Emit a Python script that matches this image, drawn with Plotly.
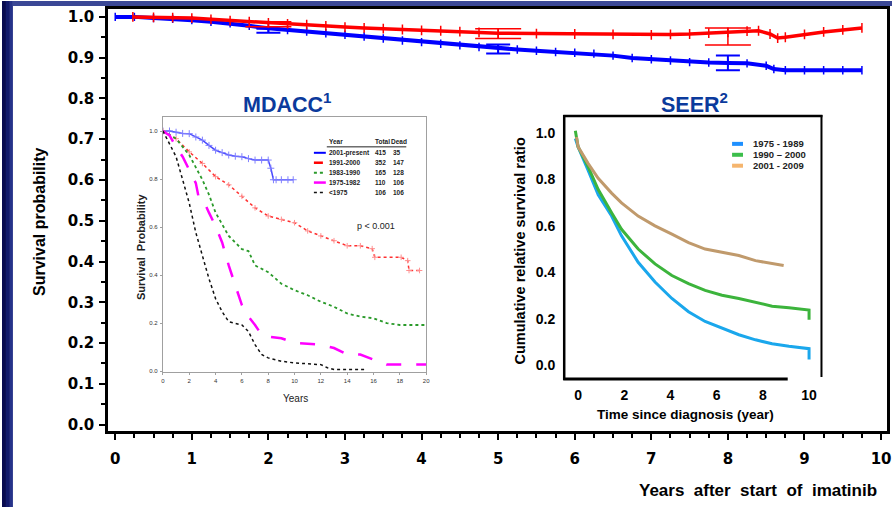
import plotly.graph_objects as go

W, H = 896, 510
def X(p): return p / W
def Y(p): return 1 - p / H

# ---------------- Main chart data (years after start of imatinib) ----------------
main_years_blue = [0, 0.25, 0.5, 0.75, 1.0, 1.25, 1.5, 1.75, 2.0, 2.25, 2.5, 2.75, 3.0, 3.25, 3.5, 3.75,
                   4.0, 4.25, 4.5, 4.75, 5.0, 5.25, 5.5, 5.75, 6.0, 6.25, 6.5, 6.75, 7.0, 7.25, 7.5, 7.75,
                   8.0, 8.25, 8.5, 8.6, 8.75, 9.0, 9.25, 9.5, 9.75]
main_surv_blue = [1.0, 1.0, 0.997, 0.995, 0.992, 0.988, 0.984, 0.978, 0.972, 0.968, 0.964, 0.960, 0.956,
                  0.952, 0.947, 0.942, 0.938, 0.934, 0.930, 0.926, 0.922, 0.920, 0.917, 0.914, 0.912,
                  0.910, 0.905, 0.899, 0.896, 0.893, 0.889, 0.888, 0.887, 0.886, 0.880, 0.872, 0.869,
                  0.869, 0.869, 0.869, 0.869]
main_years_red = [0.23, 0.5, 0.75, 1.0, 1.25, 1.5, 1.75, 2.0, 2.25, 2.5, 2.75, 3.0, 3.25, 3.5, 3.75, 4.0,
                  4.25, 4.5, 4.75, 5.0, 5.5, 6.0, 6.5, 7.0, 7.25, 7.5, 7.75, 8.0, 8.25, 8.4, 8.55, 8.65,
                  8.75, 9.0, 9.25, 9.5, 9.75]
main_surv_red = [1.0, 0.999, 0.998, 0.997, 0.994, 0.991, 0.988, 0.985, 0.983, 0.981, 0.978, 0.975, 0.973,
                 0.971, 0.969, 0.967, 0.966, 0.964, 0.962, 0.960, 0.959, 0.958, 0.957, 0.956, 0.957,
                 0.958, 0.960, 0.962, 0.965, 0.966, 0.958, 0.948, 0.950, 0.957, 0.963, 0.968, 0.973]
err_years = [2, 5, 8]
err_red_center = [0.982, 0.959, 0.952]
err_red_half = [0.006, 0.012, 0.021]
err_blue_center = [0.966, 0.921, 0.887]
err_blue_half = [0.005, 0.011, 0.018]
main_xticks = [0, 1, 2, 3, 4, 5, 6, 7, 8, 9, 10]
main_yticks = [0.0, 0.1, 0.2, 0.3, 0.4, 0.5, 0.6, 0.7, 0.8, 0.9, 1.0]

# ---------------- MDACC inset data ----------------
md_x_2001 = [0, 0.5, 1, 1.5, 2, 2.5, 3, 3.5, 4, 4.5, 5, 5.5, 6, 6.5, 7, 7.5, 8, 8.2, 8.4, 8.6, 9, 9.5, 9.9]
md_y_2001 = [1.0, 1.0, 0.995, 0.99, 0.989, 0.975, 0.962, 0.94, 0.92, 0.91, 0.90, 0.895, 0.893, 0.885,
             0.879, 0.879, 0.879, 0.845, 0.797, 0.797, 0.797, 0.797, 0.797]
md_x_1991 = [0, 1, 2, 3, 4, 5, 6, 7, 8, 9, 10, 11, 12, 13, 14, 15, 15.9, 16.1, 18.1, 18.6, 18.7, 19.5]
md_y_1991 = [1.0, 0.968, 0.913, 0.865, 0.81, 0.776, 0.728, 0.68, 0.646, 0.632, 0.618, 0.584, 0.563,
             0.543, 0.522, 0.522, 0.51, 0.474, 0.474, 0.46, 0.419, 0.419]
md_x_1983 = [0, 1, 1.5, 2, 3, 3.5, 4, 5, 6, 6.5, 7, 8, 9, 10, 11, 12, 13, 14, 15, 16, 17, 18, 20]
md_y_1983 = [1.0, 0.968, 0.934, 0.9, 0.797, 0.735, 0.66, 0.563, 0.508, 0.50, 0.44, 0.412, 0.364, 0.337,
             0.316, 0.289, 0.268, 0.24, 0.227, 0.22, 0.2, 0.192, 0.192]
md_x_1975 = [0, 0.5, 1, 1.5, 2, 2.5, 2.7, 3, 3.5, 4, 4.5, 5, 5.5, 6, 6.5, 7, 7.5, 8, 9, 10, 12, 13, 14,
             15, 16, 17, 20]
md_y_1975 = [1.0, 0.982, 0.934, 0.893, 0.838, 0.783, 0.728, 0.721, 0.66, 0.604, 0.536, 0.44, 0.357,
             0.275, 0.227, 0.192, 0.151, 0.144, 0.137, 0.117, 0.11, 0.096, 0.069, 0.069, 0.048, 0.027, 0.027]
md_x_pre = [0, 0.5, 1, 1.5, 2, 2.5, 3, 3.5, 4, 4.5, 5, 6, 6.5, 7, 7.5, 8, 9, 10, 12, 12.5, 13, 15.3]
md_y_pre = [1.0, 0.948, 0.893, 0.797, 0.70, 0.577, 0.48, 0.385, 0.302, 0.247, 0.206, 0.192, 0.165,
            0.11, 0.069, 0.055, 0.041, 0.034, 0.027, 0.014, 0.007, 0.007]
md_legend_years = ["2001-present", "1991-2000", "1983-1990", "1975-1982", "<1975"]
md_legend_total = ["415", "352", "165", "110", "106"]
md_legend_dead = ["35", "147", "128", "106", "106"]

# ---------------- SEER inset data ----------------
seer_x = [-0.12, 0, 0.43, 0.87, 1.45, 1.88, 2.6, 3.33, 4.06, 4.78, 5.5, 6.23, 6.96, 7.68, 8.4, 9.13, 10, 10]
seer_1975 = [0.976, 0.94, 0.84, 0.734, 0.642, 0.557, 0.443, 0.358, 0.287, 0.23, 0.188, 0.159, 0.131,
             0.109, 0.092, 0.081, 0.071, 0.024]
seer_1990 = [1.01, 0.94, 0.855, 0.756, 0.656, 0.585, 0.5, 0.436, 0.386, 0.351, 0.322, 0.301, 0.287,
             0.27, 0.254, 0.247, 0.237, 0.195]
seer_x_2001 = [-0.07, 0, 0.43, 0.87, 1.45, 1.88, 2.6, 3.33, 4.06, 4.78, 5.5, 6.23, 6.96, 7.68, 8.4, 8.9]
seer_2001 = [0.983, 0.94, 0.869, 0.805, 0.741, 0.699, 0.642, 0.6, 0.564, 0.528, 0.5, 0.486, 0.472,
             0.45, 0.436, 0.429]
seer_labels = ["1975 - 1989", "1990 \u2013 2000", "2001 - 2009"]

fig = go.Figure()

# main curves
fig.add_trace(go.Scatter(x=main_years_blue, y=main_surv_blue, mode="lines+markers",
                         line=dict(color="#0000ff", width=4),
                         marker=dict(symbol="line-ns", size=6, line=dict(color="#0000ff", width=1.5)),
                         xaxis="x", yaxis="y", showlegend=False))
fig.add_trace(go.Scatter(x=main_years_red, y=main_surv_red, mode="lines+markers",
                         line=dict(color="#ff0000", width=3.5),
                         marker=dict(symbol="line-ns", size=7, line=dict(color="#ff0000", width=1.5)),
                         xaxis="x", yaxis="y", showlegend=False))
fig.add_trace(go.Scatter(x=err_years, y=err_blue_center, mode="markers",
                         marker=dict(size=1, color="#0000ff"),
                         error_y=dict(type="data", array=err_blue_half, width=12, thickness=2, color="#0000ff"),
                         xaxis="x", yaxis="y", showlegend=False))
fig.add_trace(go.Scatter(x=err_years, y=err_red_center, mode="markers",
                         marker=dict(size=1, color="#ff0000"),
                         error_y=dict(type="data", array=err_red_half, width=23, thickness=1.5, color="#ff0000"),
                         xaxis="x", yaxis="y", showlegend=False))

# MDACC curves
fig.add_trace(go.Scatter(x=md_x_2001, y=md_y_2001, mode="lines+markers",
                         line=dict(color="#4a4aff", width=1.5),
                         marker=dict(symbol="cross-thin", size=5, line=dict(color="#8080ff", width=1)),
                         xaxis="x2", yaxis="y2", showlegend=False))
fig.add_trace(go.Scatter(x=md_x_1991, y=md_y_1991, mode="lines+markers",
                         line=dict(color="#ff3030", width=1.5, dash="dot"),
                         marker=dict(symbol="cross-thin", size=4, line=dict(color="#ff9090", width=1)),
                         xaxis="x2", yaxis="y2", showlegend=False))
fig.add_trace(go.Scatter(x=md_x_1983, y=md_y_1983, mode="lines",
                         line=dict(color="#2a9a2a", width=1.8, dash="dot"),
                         xaxis="x2", yaxis="y2", showlegend=False))
fig.add_trace(go.Scatter(x=md_x_1975, y=md_y_1975, mode="lines",
                         line=dict(color="#ff00ff", width=2.5, dash="longdash"),
                         xaxis="x2", yaxis="y2", showlegend=False))
fig.add_trace(go.Scatter(x=md_x_pre, y=md_y_pre, mode="lines",
                         line=dict(color="#111111", width=1.5, dash="dot"),
                         xaxis="x2", yaxis="y2", showlegend=False))

# SEER curves
fig.add_trace(go.Scatter(x=seer_x, y=seer_1975, mode="lines", line=dict(color="#1aa7ec", width=3),
                         xaxis="x3", yaxis="y3", showlegend=False))
fig.add_trace(go.Scatter(x=seer_x, y=seer_1990, mode="lines", line=dict(color="#3cb43c", width=3),
                         xaxis="x3", yaxis="y3", showlegend=False))
fig.add_trace(go.Scatter(x=seer_x_2001, y=seer_2001, mode="lines", line=dict(color="#c09a6c", width=3),
                         xaxis="x3", yaxis="y3", showlegend=False))

bold_tick = dict(family="DejaVu Sans", size=15, color="black", weight="bold")
px_per_yr = 77.1
px_per_unit = 411.0

fig.update_layout(
    width=W, height=H, autosize=False,
    margin=dict(l=0, r=0, t=0, b=0),
    paper_bgcolor="white", plot_bgcolor="rgba(0,0,0,0)",
    xaxis=dict(domain=[X(107), X(891)], range=[(107 - 114) / px_per_yr, (891 - 114) / px_per_yr],
               showline=True, linewidth=3, linecolor="black", mirror=True,
               ticks="outside", ticklen=6, tickwidth=2, tickcolor="black",
               tickvals=main_xticks, ticktext=[str(v) for v in main_xticks], tickfont=bold_tick,
               ticklabelstandoff=6,
               minor=dict(tick0=0, dtick=0.25, ticks="outside", ticklen=4, tickwidth=1.5, tickcolor="black"),
               showgrid=False, zeroline=False, anchor="y"),
    yaxis=dict(domain=[Y(433), Y(8)], range=[(427 - 433) / px_per_unit, (427 - 8) / px_per_unit],
               showline=True, linewidth=3, linecolor="black", mirror=True,
               ticks="outside", ticklen=6, tickwidth=2, tickcolor="black",
               tickvals=main_yticks, ticktext=["%.1f" % v for v in main_yticks], tickfont=bold_tick,
               ticklabelstandoff=2,
               minor=dict(tick0=0, dtick=0.05, ticks="outside", ticklen=4, tickwidth=1.5, tickcolor="black"),
               showgrid=False, zeroline=False, anchor="x"),
    xaxis2=dict(domain=[X(162), X(427)], range=[0, 20], anchor="y2",
                showline=True, linewidth=1, linecolor="#a0a0a0", mirror=True,
                ticks="outside", ticklen=2, tickcolor="#a0a0a0", dtick=2, tick0=0,
                tickfont=dict(family="Liberation Sans", size=6, color="#333"),
                ticklabelstandoff=1, showgrid=False, zeroline=False),
    yaxis2=dict(domain=[Y(374), Y(117)], range=[-0.004, 1.058], anchor="x2",
                showline=True, linewidth=1, linecolor="#a0a0a0", mirror=True,
                ticks="outside", ticklen=2, tickcolor="#a0a0a0", dtick=0.2, tick0=0, tickformat=".1f",
                tickfont=dict(family="Liberation Sans", size=6, color="#333"),
                ticklabelstandoff=1, showgrid=False, zeroline=False),
    xaxis3=dict(domain=[X(566), X(826)], range=[(566 - 580) / 23.25, (826 - 580) / 23.25], anchor="y3",
                showline=False, ticks="", tickvals=[0, 2, 4, 6, 8, 10],
                tickfont=dict(family="Liberation Sans", size=14, color="black", weight="bold"),
                ticklabelstandoff=6, showgrid=False, zeroline=False),
    yaxis3=dict(domain=[Y(381), Y(116)], range=[(367 - 381) / 234.0, (367 - 116) / 234.0], anchor="x3",
                showline=False, ticks="", tickvals=[0, 0.2, 0.4, 0.6, 0.8, 1.0], tickformat=".1f",
                tickfont=dict(family="Liberation Sans", size=14, color="black", weight="bold"),
                ticklabelstandoff=8, showgrid=False, zeroline=False),
)

shapes = []
# slide background frame
shapes += [
    dict(type="rect", xref="paper", yref="paper", x0=0, x1=X(4), y0=0, y1=1, fillcolor="#080b50", line_width=0, layer="below"),
    dict(type="rect", xref="paper", yref="paper", x0=X(4), x1=X(8), y0=0, y1=1, fillcolor="#121a6c", line_width=0, layer="below"),
    dict(type="rect", xref="paper", yref="paper", x0=X(8), x1=X(11), y0=0, y1=1, fillcolor="#26338a", line_width=0, layer="below"),
    dict(type="rect", xref="paper", yref="paper", x0=X(11), x1=1, y0=Y(5), y1=1, fillcolor="#3b4896", line_width=0, layer="below"),
]
# SEER frame
shapes += [
    dict(type="line", xref="paper", yref="paper", x0=X(566), x1=X(566), y0=Y(382), y1=Y(115), line=dict(color="black", width=2.5)),
    dict(type="line", xref="paper", yref="paper", x0=X(565), x1=X(826), y0=Y(116), y1=Y(116), line=dict(color="black", width=2.5)),
    dict(type="line", xref="paper", yref="paper", x0=X(825), x1=X(825), y0=Y(115), y1=Y(379), line=dict(color="black", width=2)),
    dict(type="line", xref="paper", yref="paper", x0=X(565), x1=X(791), y0=Y(381), y1=Y(381), line=dict(color="black", width=3)),
]
# SEER legend samples
seer_cols = ["#1e90ff", "#3cbe4b", "#f5b56e"]
for i, c in enumerate(seer_cols):
    yy = 144 + 11 * i
    shapes.append(dict(type="line", xref="paper", yref="paper", x0=X(735), x1=X(746), y0=Y(yy), y1=Y(yy),
                       line=dict(color=c, width=4)))
# MDACC legend samples
md_styles = [("#0000ff", "solid", 2), ("#ff0000", "dash", 2.5), ("#2a9a2a", "dot", 2),
             ("#ff00ff", "solid", 2.5), ("#111111", "dot", 1.5)]
for i, (c, d, w) in enumerate(md_styles):
    yy = 153 + 10 * i
    shapes.append(dict(type="line", xref="paper", yref="paper", x0=X(314), x1=X(326), y0=Y(yy), y1=Y(yy),
                       line=dict(color=c, width=w, dash=d)))
shapes.append(dict(type="line", xref="paper", yref="paper", x0=X(327), x1=X(407), y0=Y(147), y1=Y(147),
                   line=dict(color="#222", width=1)))
fig.update_layout(shapes=shapes)

ann = []
def A(text, x, y, size, color="black", bold=False, family="Liberation Sans", xanchor="center", angle=0):
    ann.append(dict(text=text, x=X(x), y=Y(y), xref="paper", yref="paper", showarrow=False,
                    xanchor=xanchor, yanchor="middle", textangle=angle,
                    font=dict(family=family, size=size, color=color, weight="bold" if bold else "normal")))

A("Survival probability", 38, 222, 16, angle=-90, bold=True)
A("Years  after  start  of  imatinib", 883, 493, 17, bold=True, xanchor="right")
A("MDACC<sup>1</sup>", 287, 103, 21.5, color="#0b3a9c", bold=True)
A("SEER<sup>2</sup>", 697, 103, 21.5, color="#0b3a9c", bold=True)
# MDACC texts
A("Survival  Probability", 140, 248, 11, color="#222", bold=True, angle=-90)
A("Years", 295, 401, 10, color="#222")
A("p < 0.001", 377, 227, 9, color="#222")
A("Year", 327, 142, 6.5, color="#222", bold=True, xanchor="left")
A("Total", 373, 142, 6.5, color="#222", bold=True, xanchor="left")
A("Dead", 390, 142, 6.5, color="#222", bold=True, xanchor="left")
for i in range(5):
    yy = 153 + 10 * i
    A(md_legend_years[i], 327, yy, 6.5, color="#222", bold=True, xanchor="left")
    A(md_legend_total[i], 374, yy, 6.5, color="#222", bold=True, xanchor="left")
    A(md_legend_dead[i], 392, yy, 6.5, color="#222", bold=True, xanchor="left")
# SEER texts
A("Cumulative relative survival ratio", 522, 252, 14.5, bold=True, angle=-90)
A("Time since diagnosis (year)", 688, 417, 13.5, bold=True)
for i, t in enumerate(seer_labels):
    A(t, 754, 144 + 11 * i, 9.5, color="#222", bold=True, xanchor="left")
fig.update_layout(annotations=ann)

fig.write_html("out.html")
